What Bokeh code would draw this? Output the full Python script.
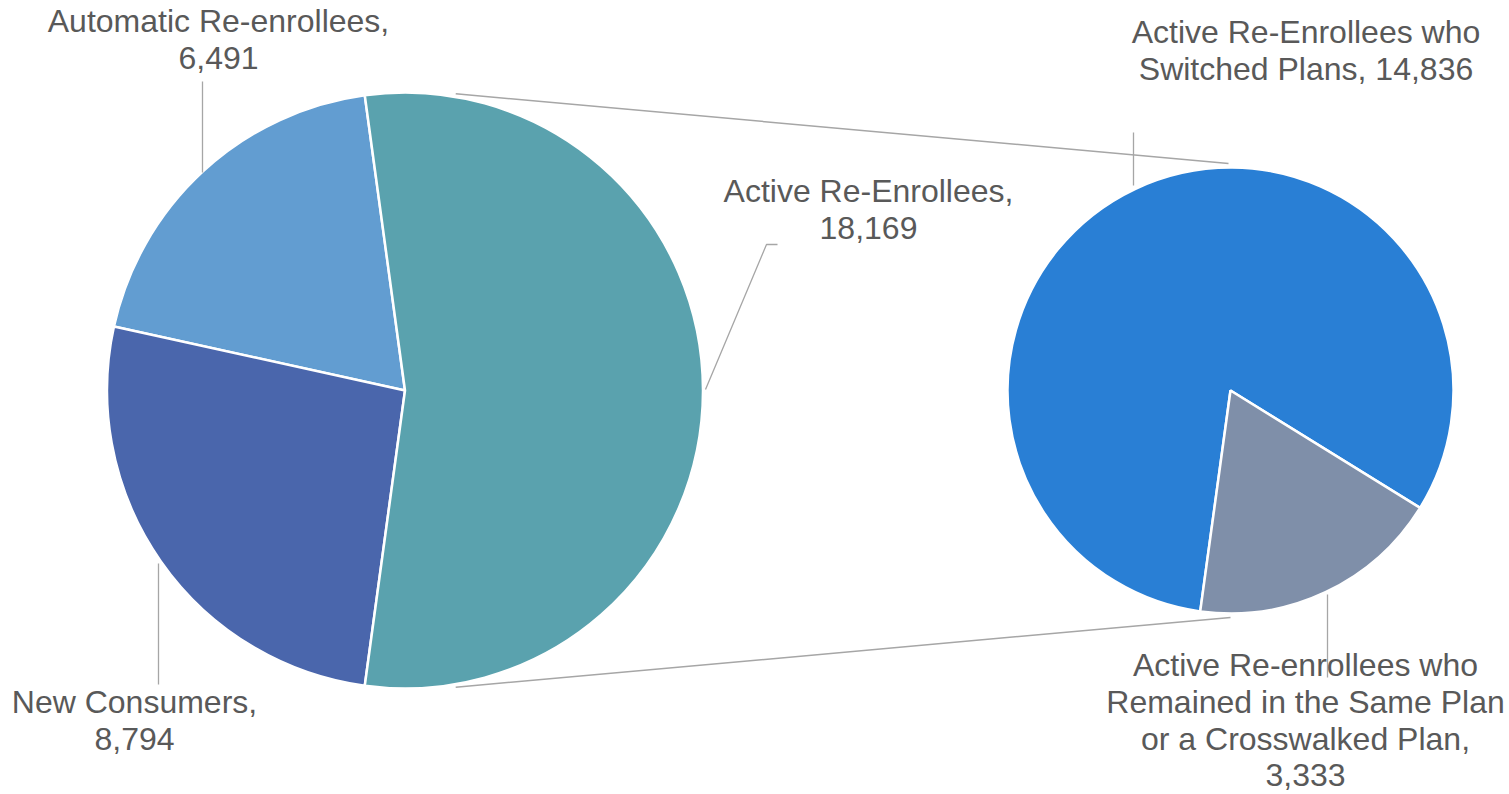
import math
from bokeh.plotting import figure
from bokeh.models import Range1d, ColumnDataSource
from bokeh.core.properties import value
from bokeh.embed import file_html
from bokeh.resources import INLINE

# ---------------- data ----------------
main_categories = ["Automatic Re-enrollees", "New Consumers", "Active Re-Enrollees"]
main_values = [6491, 8794, 18169]
main_colors = ["#629dd1", "#4a66ac", "#5aa2ae"]

sub_categories = ["Active Re-Enrollees who Switched Plans",
                  "Active Re-enrollees who Remained in the Same Plan or a Crosswalked Plan"]
sub_values = [14836, 3333]
sub_colors = ["#297fd5", "#7f8fa9"]

# label text lines (value appended from the data arrays)
main_label_lines = [
    ["Automatic Re-enrollees,", "{v}"],
    ["New Consumers,", "{v}"],
    ["Active Re-Enrollees,", "{v}"],
]
sub_label_lines = [
    ["Active Re-Enrollees who", "Switched Plans, {v}"],
    ["Active Re-enrollees who", "Remained in the Same Plan", "or a Crosswalked Plan,", "{v}"],
]

# ---------------- layout ----------------
W, H = 1509, 794


def P(rx, ry):
    # reference-pixel position -> data coords (y up)
    return rx, H - ry


L_C = P(404.5, 390)
L_R = 298
R_C = P(1230, 390)
R_R = 223
R_START = math.radians(-97.8)

TEXT_DY = -12.5  # renderer baseline correction
main_label_pos = [(218, 33), (134, 714), (868, 203)]
sub_label_pos = [(1305.5, 44), (1305, 677)]
LINE_GAP = 36.8

leaders = [
    [(202, 81), (202, 172)],
    [(158, 563), (158, 684)],
    [(705, 389), (766, 244), (777, 244)],
    [(1133, 132), (1133, 185)],
    [(1327, 594), (1327, 677)],
]

p = figure(width=W, height=H, output_backend="svg", toolbar_location=None,
           x_range=Range1d(0, W), y_range=Range1d(0, H), min_border=0,
           outline_line_color=None, background_fill_color="white",
           border_fill_color="white")
p.axis.visible = False
p.grid.visible = False

# ---- main pie ----
tot = sum(main_values)
act = main_values[2] / tot * 2 * math.pi
starts, ends = [], []
a = act / 2
for v in main_values[:2]:
    d = v / tot * 2 * math.pi
    starts.append(a)
    ends.append(a + d)
    a += d
starts.append(-act / 2)
ends.append(act / 2)
src_main = ColumnDataSource(dict(x=[L_C[0]] * 3, y=[L_C[1]] * 3, s=starts, e=ends, c=main_colors))
p.wedge(x="x", y="y", radius=L_R, start_angle="s", end_angle="e", fill_color="c",
        line_color="white", line_width=2.5, source=src_main, direction="anticlock")

# ---- sub pie ----
stot = sum(sub_values)
rem = sub_values[1] / stot * 2 * math.pi
s_starts = [R_START + rem, R_START]
s_ends = [R_START + 2 * math.pi, R_START + rem]
src_sub = ColumnDataSource(dict(x=[R_C[0]] * 2, y=[R_C[1]] * 2, s=s_starts, e=s_ends, c=sub_colors))
p.wedge(x="x", y="y", radius=R_R, start_angle="s", end_angle="e", fill_color="c",
        line_color="white", line_width=2.5, source=src_sub, direction="anticlock")

# ---- connector lines ----
ang = math.radians(80.3)
rr = L_R + 3
top_l = (L_C[0] + rr * math.cos(ang), L_C[1] + rr * math.sin(ang))
bot_l = (L_C[0] + rr * math.cos(-ang), L_C[1] + rr * math.sin(-ang))
top_r = (R_C[0] - 2, R_C[1] + R_R + 4)
bot_r = (R_C[0], R_C[1] - R_R - 4)
p.segment(x0=[top_l[0], bot_l[0]], y0=[top_l[1], bot_l[1]],
          x1=[top_r[0], bot_r[0]], y1=[top_r[1], bot_r[1]],
          line_color="#a6a6a6", line_width=1.5)

# ---- leader lines ----
xs = [[P(*pt)[0] for pt in ln] for ln in leaders]
ys = [[P(*pt)[1] for pt in ln] for ln in leaders]
p.multi_line(xs=xs, ys=ys, line_color="#a6a6a6", line_width=1.3)

# ---- labels ----
tx, ty, tt = [], [], []
for lines, val, pos in list(zip(main_label_lines, main_values, main_label_pos)) + \
        list(zip(sub_label_lines, sub_values, sub_label_pos)):
    for i, ln in enumerate(lines):
        x, y = P(pos[0], pos[1] + i * LINE_GAP + TEXT_DY)
        tx.append(x)
        ty.append(y)
        tt.append(ln.format(v=f"{val:,}"))
p.text(x=tx, y=ty, text=tt, text_font=value("Liberation Sans"), text_font_size="32px",
       text_align="center", text_baseline="alphabetic", text_color="#595959")

open("out.html", "w").write(file_html(p, INLINE))
